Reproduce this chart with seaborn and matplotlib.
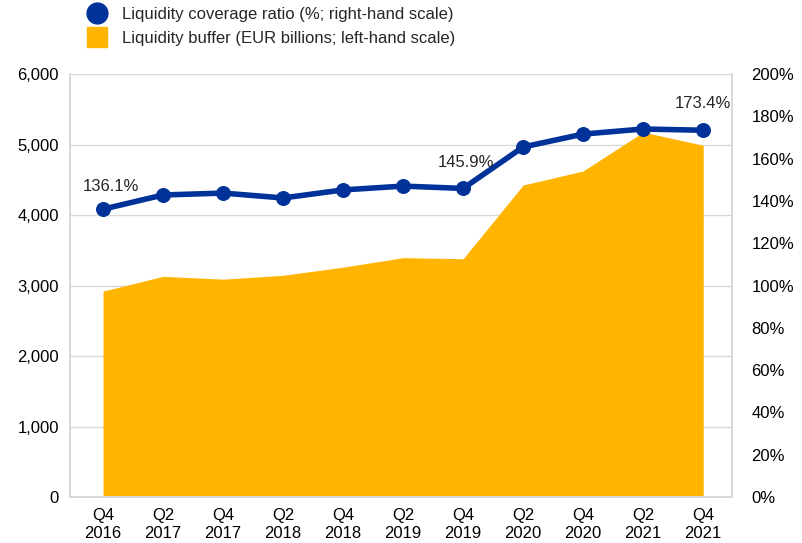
import numpy as np
import pandas as pd
import matplotlib
matplotlib.use('Agg')
import matplotlib.pyplot as plt
import seaborn as sns
from matplotlib.lines import Line2D
from matplotlib.ticker import FuncFormatter

periods = ['Q4\n2016', 'Q2\n2017', 'Q4\n2017', 'Q2\n2018', 'Q4\n2018', 'Q2\n2019',
           'Q4\n2019', 'Q2\n2020', 'Q4\n2020', 'Q2\n2021', 'Q4\n2021']
buffer_bn = [2920, 3130, 3090, 3145, 3260, 3395, 3380, 4425, 4625, 5175, 4990]
lcr_pct = [136.1, 142.8, 143.7, 141.4, 145.2, 147.0, 145.9, 165.5, 171.6, 174.0, 173.4]
labelled = {0: '136.1%', 6: '145.9%', 10: '173.4%'}

sns.set_theme(style='white')
plt.rcParams['font.family'] = ['Liberation Sans', 'DejaVu Sans']

blue = '#003299'
gold = '#FFB400'
grid = '#D9D9D9'

df = pd.DataFrame({'x': np.arange(len(periods)), 'buffer': buffer_bn, 'lcr': lcr_pct})

fig = plt.figure(figsize=(8.03, 5.43), dpi=100)
ax = fig.add_axes([0.0872, 0.0847, 0.8244, 0.779])
ax.fill_between(df['x'], 0, df['buffer'], color=gold, linewidth=0, zorder=2)
ax.set_ylim(0, 6000)
ax.set_yticks(range(0, 6001, 1000))
ax.yaxis.set_major_formatter(FuncFormatter(lambda v, p: f'{int(v):,}'))
ax.set_xlim(-0.55, 10.48)
ax.set_xticks(df['x'])
ax.set_xticklabels(periods, linespacing=1.25)
for y in range(1000, 6001, 1000):
    ax.axhline(y, color=grid, lw=1, zorder=0)
for s in ax.spines.values():
    s.set_color(grid)
ax.spines['top'].set_visible(False)
ax.tick_params(axis='both', labelsize=12, colors='black', length=0, pad=8)

ax2 = ax.twinx()
sns.lineplot(data=df, x='x', y='lcr', ax=ax2, color=blue, lw=4, marker='o',
             markersize=10, markeredgecolor=blue, zorder=3)
ax2.set_ylim(0, 200)
ax2.set_yticks(range(0, 201, 20))
ax2.yaxis.set_major_formatter(FuncFormatter(lambda v, p: f'{int(v)}%'))
ax2.set_ylabel('')
ax2.set_xlabel('')
ax2.spines['top'].set_visible(False)
for s in ax2.spines.values():
    s.set_color(grid)
ax2.tick_params(axis='y', labelsize=12, colors='black', length=0, pad=14)
ax.set_xlabel('')

offsets = {0: (6, 11), 6: (2, 13), 10: (0, 14)}
for i, t in labelled.items():
    ax2.annotate(t, (df['x'][i], df['lcr'][i]), xytext=offsets[i], textcoords='offset points',
                 ha='center', va='bottom', fontsize=12)

handles = [Line2D([], [], marker='o', color='none', markerfacecolor=blue, markeredgecolor=blue,
                  markersize=15, label='Liquidity coverage ratio (%; right-hand scale)'),
           Line2D([], [], marker='s', color='none', markerfacecolor=gold, markeredgecolor=gold,
                  markersize=14, label='Liquidity buffer (EUR billions; left-hand scale)')]
fig.legend(handles=handles, loc='upper left', bbox_to_anchor=(0.09, 1.015), frameon=False,
           fontsize=12, handlelength=1.2, handletextpad=0.9, labelspacing=0.55)

fig.savefig('out.png', dpi=100)
